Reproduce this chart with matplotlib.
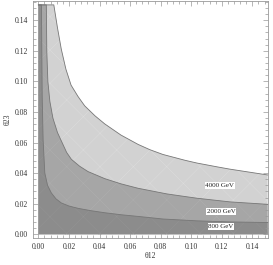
import matplotlib
matplotlib.use('Agg')
import matplotlib.pyplot as plt
from matplotlib.ticker import MultipleLocator, AutoMinorLocator

plt.rcParams['font.family'] = ['Liberation Serif', 'DejaVu Serif']
plt.rcParams['hatch.linewidth'] = 0.3

# theta12 range of the scan
theta12_min, theta12_max = 0.0, 0.15

# boundary curves (theta12, theta23)
curve_4000_x = [0.0101, 0.0125, 0.0150, 0.0180, 0.0214, 0.0260, 0.0303, 0.0370, 0.0434, 0.0540, 0.0652,
                0.0730, 0.0815, 0.0959, 0.1037, 0.1175, 0.1253, 0.1500]
curve_4000_y = [0.1500, 0.1350, 0.1210, 0.1080, 0.0975, 0.0900, 0.0840, 0.0775, 0.0722, 0.0649, 0.0588,
                0.0553, 0.0522, 0.0484, 0.0466, 0.0440, 0.0426, 0.0388]

curve_2000_x = [0.0052, 0.0055, 0.0062, 0.0075, 0.0095, 0.0125, 0.0155, 0.0185, 0.0216, 0.0270, 0.0325,
                0.0434, 0.0540, 0.0652, 0.0841, 0.0959, 0.1037, 0.1253, 0.1500]
curve_2000_y = [0.1500, 0.1200, 0.1000, 0.0870, 0.0760, 0.0665, 0.0600, 0.0535, 0.0490, 0.0445, 0.0410,
                0.0364, 0.0330, 0.0301, 0.0264, 0.0247, 0.0236, 0.0212, 0.0196]

curve_800_x = [0.0020, 0.0025, 0.0031, 0.0042, 0.0060, 0.0085, 0.0115, 0.0150, 0.0200, 0.0259, 0.0340,
               0.0434, 0.0540, 0.0652, 0.0815, 0.1037, 0.1253, 0.1500]
curve_800_y = [0.1500, 0.0900, 0.0616, 0.0401, 0.0320, 0.0270, 0.0232, 0.0205, 0.0185, 0.0170, 0.0155,
               0.0141, 0.0128, 0.0117, 0.0100, 0.0088, 0.0081, 0.0077]

labels = ['4000 GeV', '2000 GeV', '800 GeV']
label_pos = [(0.1187, 0.0321), (0.1195, 0.0148), (0.1195, 0.0050)]

curves = [(curve_4000_x, curve_4000_y, '#d2d2d2', '#dedede'),
          (curve_2000_x, curve_2000_y, '#a6a6a6', '#b0b0b0'),
          (curve_800_x, curve_800_y, '#8c8c8c', '#959595')]

fig = plt.figure(figsize=(2.73, 2.65), dpi=100)
ax = fig.add_axes([0.121, 0.102, 0.861, 0.894])

for xs, ys, face, hatch_col in curves:
    px = [theta12_min, theta12_min] + xs + [theta12_max, theta12_min]
    py = [0.0, ys[0]] + ys + [0.0, 0.0]
    ax.fill(px, py, facecolor=face, edgecolor=hatch_col, hatch='x', linewidth=0)
    ax.plot([theta12_min] + xs, [ys[0]] + ys, color='#767676', linewidth=0.6)

for text, (tx, ty) in zip(labels, label_pos):
    ax.text(tx, ty, text, fontsize=5, ha='center', va='center', color='#222222',
            bbox=dict(facecolor='white', edgecolor='none', pad=0.6))

ax.set_xlim(-0.0035, 0.1503)
ax.set_ylim(-0.0024, 0.1525)
ax.xaxis.set_major_locator(MultipleLocator(0.02))
ax.yaxis.set_major_locator(MultipleLocator(0.02))
ax.xaxis.set_minor_locator(AutoMinorLocator(5))
ax.yaxis.set_minor_locator(AutoMinorLocator(5))
ax.xaxis.set_major_formatter(plt.FormatStrFormatter('%.2f'))
ax.yaxis.set_major_formatter(plt.FormatStrFormatter('%.2f'))
ax.tick_params(which='both', direction='in', top=True, right=True, labelsize=5.5,
               colors='#999999', labelcolor='#333333', width=0.5)
ax.tick_params(which='major', length=3.5)
ax.tick_params(which='minor', length=2)
for s in ax.spines.values():
    s.set_color('#999999')
    s.set_linewidth(0.6)

ax.set_xlabel('θ12', fontsize=5.5, color='#333333', va='center')
ax.set_ylabel('θ23', fontsize=5.5, color='#333333', va='center')
ax.xaxis.set_label_coords(0.5, -0.076)
ax.yaxis.set_label_coords(-0.106, 0.5)

fig.savefig('out.png', dpi=100)
